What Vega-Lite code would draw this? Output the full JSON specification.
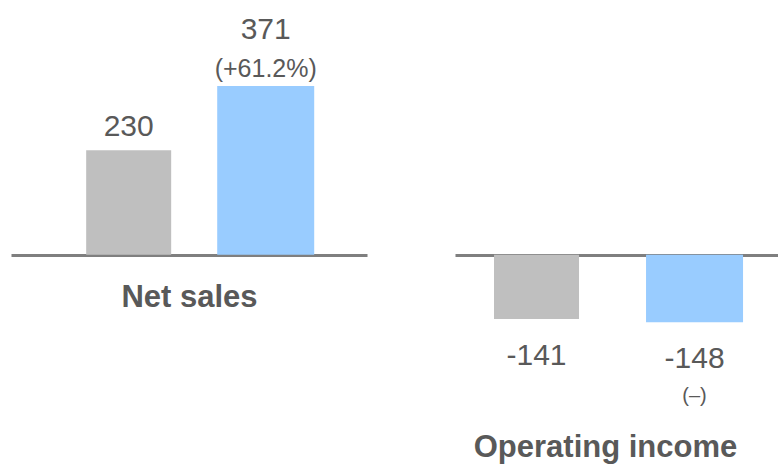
{
  "$schema": "https://vega.github.io/schema/vega-lite/v6.json",
  "padding": {"left": 11, "top": 0, "right": 0, "bottom": 0},
  "spacing": 88,
  "bounds": "flush",
  "config": {
    "view": {"stroke": null},
    "font": "Liberation Sans",
    "axis": {
      "domainColor": "#7F7F7F",
      "domainWidth": 3,
      "labels": false,
      "ticks": false,
      "grid": false,
      "zindex": 1,
      "titleFont": "Liberation Sans",
      "titleFontWeight": "bold",
      "titleFontSize": 31,
      "titleColor": "#595959",
      "titleBaseline": "middle"
    }
  },
  "datasets": {
    "sales": [
      {"period": "Prior", "value": 230, "change": ""},
      {"period": "Current", "value": 371, "change": "(+61.2%)"}
    ],
    "income": [
      {"period": "Prior", "value": -141, "change": ""},
      {"period": "Current", "value": -148, "change": "(–)"}
    ]
  },
  "hconcat": [
    {
      "width": 356,
      "height": 465,
      "data": {"name": "sales"},
      "encoding": {
        "x": {
          "field": "period", "type": "nominal", "sort": ["Prior", "Current"],
          "scale": {"paddingInner": 0, "paddingOuter": 0.299, "align": 0.6},
          "axis": {"title": "Net sales", "offset": -210, "titlePadding": 42}
        },
        "y": {
          "field": "value", "type": "quantitative",
          "scale": {"domain": [-462, 560], "nice": false, "zero": false},
          "axis": null
        }
      },
      "layer": [
        {
          "mark": {"type": "bar"},
          "encoding": {
            "color": {"field": "period", "type": "nominal", "scale": {"domain": ["Prior", "Current"], "range": ["#BFBFBF", "#99CCFF"]}, "legend": null},
            "size": {"field": "period", "type": "ordinal", "scale": {"domain": ["Prior", "Current"], "range": [85, 97]}, "legend": null}
          }
        },
        {
          "transform": [{"filter": "datum.period === 'Prior'"}],
          "mark": {"type": "text", "baseline": "alphabetic", "dy": -14, "fontSize": 30, "color": "#595959"},
          "encoding": {"text": {"field": "value", "type": "nominal"}}
        },
        {
          "transform": [{"filter": "datum.period === 'Current'"}],
          "mark": {"type": "text", "baseline": "alphabetic", "dy": -47, "fontSize": 30, "color": "#595959"},
          "encoding": {"text": {"field": "value", "type": "nominal"}}
        },
        {
          "transform": [{"filter": "datum.period === 'Current'"}],
          "mark": {"type": "text", "baseline": "alphabetic", "dy": -9, "fontSize": 25, "color": "#595959"},
          "encoding": {"text": {"field": "change", "type": "nominal"}}
        }
      ]
    },
    {
      "width": 323,
      "height": 465,
      "data": {"name": "income"},
      "encoding": {
        "x": {
          "field": "period", "type": "nominal", "sort": ["Prior", "Current"],
          "scale": {"paddingInner": 0, "paddingOuter": 0.022, "align": 0.36},
          "axis": {"title": "Operating income", "offset": -210, "titlePadding": 192, "titleX": 150}
        },
        "y": {
          "field": "value", "type": "quantitative",
          "scale": {"domain": [-462, 560], "nice": false, "zero": false},
          "axis": null
        }
      },
      "layer": [
        {
          "mark": {"type": "bar"},
          "encoding": {
            "color": {"field": "period", "type": "nominal", "scale": {"domain": ["Prior", "Current"], "range": ["#BFBFBF", "#99CCFF"]}, "legend": null},
            "size": {"field": "period", "type": "ordinal", "scale": {"domain": ["Prior", "Current"], "range": [85, 97]}, "legend": null}
          }
        },
        {
          "mark": {"type": "text", "baseline": "alphabetic", "dy": 46, "fontSize": 30, "color": "#595959"},
          "encoding": {"text": {"field": "value", "type": "nominal"}}
        },
        {
          "transform": [{"filter": "datum.period === 'Current'"}],
          "mark": {"type": "text", "baseline": "alphabetic", "dy": 80, "fontSize": 20, "color": "#595959"},
          "encoding": {"text": {"field": "change", "type": "nominal"}}
        }
      ]
    }
  ]
}
